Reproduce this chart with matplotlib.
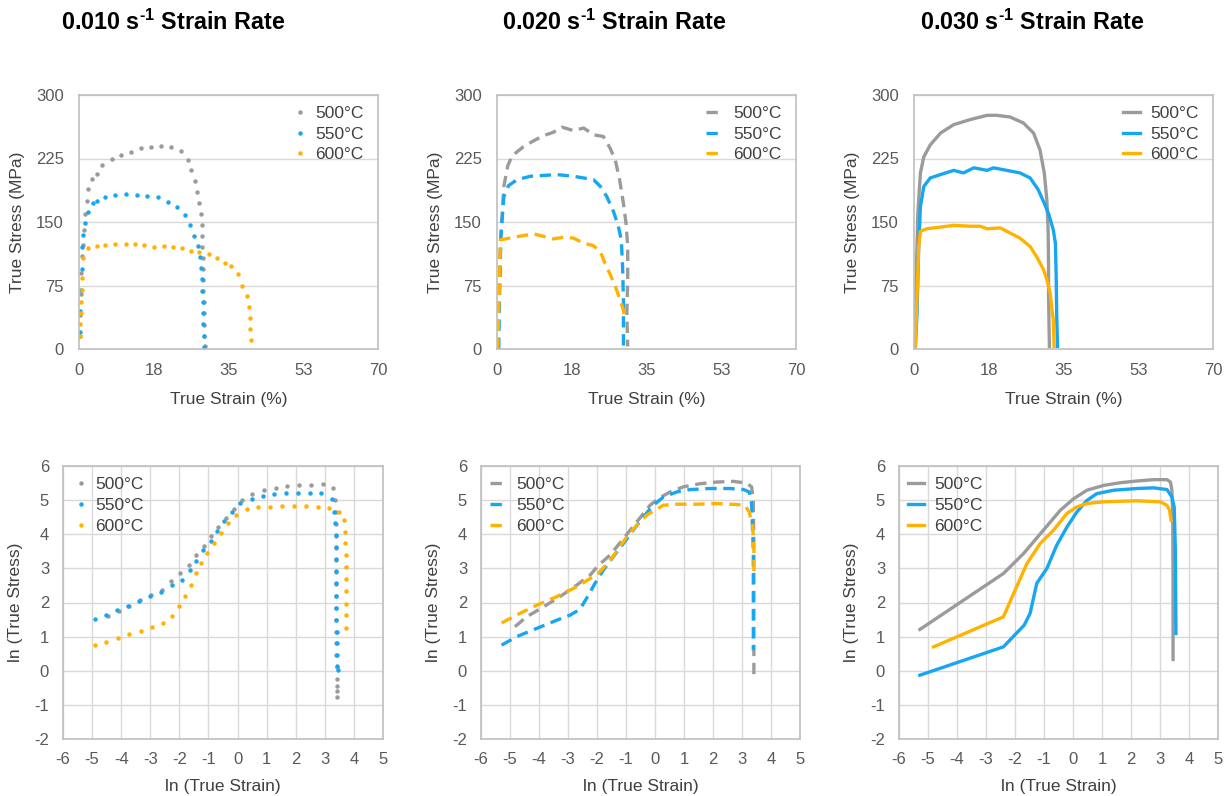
import matplotlib
matplotlib.use("Agg")
import matplotlib.pyplot as plt
from matplotlib import font_manager

# ---------------- data ----------------
temps = ["500°C", "550°C", "600°C"]
colors = ["#9b9b9b", "#17a6f2", "#ffb300"]

# 0.010 s-1 (dots): true strain (%) / true stress (MPa)
r1_500_x = [0.2, 0.3, 0.4, 0.5, 0.7, 1.0, 1.2, 1.4, 1.8, 2.2, 3.0, 4.1, 5.4, 7.7, 9.8, 12.1, 14.5, 16.8, 19.1, 21.6, 23.9, 25.5, 26.3, 27.1, 27.7, 28.2, 28.6, 28.8, 28.8, 28.9, 29.0, 29.0, 29.1, 29.1, 29.2, 29.2, 29.3, 29.3, 29.4]
r1_500_y = [15, 40, 65, 90, 110, 123, 140, 160, 175, 189, 201, 207, 217, 224, 229, 233, 237, 239, 240, 239, 234, 223, 211, 198, 185, 172, 159, 146, 134, 120, 108, 95, 82, 68, 55, 42, 28, 15, 3]
r1_550_x = [0.2, 0.3, 0.4, 0.6, 0.8, 1.0, 1.4, 2.0, 3.2, 4.1, 6.2, 8.4, 10.9, 13.5, 16.0, 18.4, 20.8, 23.0, 24.7, 25.9, 27.0, 27.8, 28.4, 28.6, 28.8, 28.9, 29.0, 29.1, 29.1, 29.2, 29.3]
r1_550_y = [20, 45, 70, 95, 120, 135, 149, 162, 173, 175, 180, 182, 183, 182, 181, 179, 174, 168, 158, 146, 134, 122, 109, 96, 83, 69, 56, 42, 29, 15, 2]
r1_600_x = [0.2, 0.3, 0.4, 0.5, 0.6, 0.8, 1.0, 2.0, 4.1, 6.2, 8.4, 10.9, 13.0, 15.2, 17.6, 19.8, 21.9, 24.1, 26.3, 28.2, 30.5, 32.3, 34.1, 35.7, 37.3, 38.2, 39.3, 39.7, 40.0, 40.1, 40.3]
r1_600_y = [15, 30, 43, 56, 70, 84, 107, 119, 122, 123, 124, 124, 123.5, 123, 121, 121.5, 120, 119, 116, 115, 112, 107, 102, 97.5, 88, 75, 63, 50, 37, 24, 11]

# 0.020 s-1 (dashed)
r2_500_x = [0.2, 0.8, 1.6, 2.5, 3.5, 6.2, 8.6, 10.9, 13.2, 15.2, 17.9, 20.3, 22.6, 24.9, 26.5, 27.7, 28.7, 29.6, 30.2, 30.6, 30.6, 30.4, 30.6]
r2_500_y = [0, 121, 192, 216, 228, 239, 246, 252, 256, 262, 258, 261, 253, 251, 237, 223, 200, 172, 149, 121, 82, 42, 3]
r2_550_x = [0.4, 0.6, 0.9, 1.6, 2.7, 4.7, 7.8, 10.9, 14.0, 17.9, 20.3, 22.6, 24.2, 25.7, 27.3, 28.4, 29.1, 29.4, 29.6, 29.6]
r2_550_y = [0, 62, 133, 180, 193, 200, 204, 205, 206, 204, 202, 200, 192, 180, 162, 145, 129, 97, 58, 3]
r2_600_x = [0.15, 0.5, 0.8, 2.0, 3.9, 6.2, 8.6, 10.9, 13.2, 15.6, 17.9, 20.3, 22.6, 24.2, 25.3, 26.5, 27.7, 28.8, 29.6, 29.9]
r2_600_y = [0, 62, 129, 130, 132, 134, 136, 133, 130, 132, 131, 125, 122, 115, 101, 88, 74, 58, 46, 35]

# 0.030 s-1 (solid)
r3_500_x = [0.15, 0.5, 0.9, 1.5, 2.3, 3.8, 6.2, 9.3, 13.2, 17.1, 19.4, 22.5, 25.6, 28.0, 29.5, 30.5, 31.1, 31.4, 31.5, 31.5, 31.7]
r3_500_y = [0, 82, 160, 208, 227, 241, 255, 265, 271, 276, 276, 274, 267, 255, 235, 208, 176, 141, 101, 62, 3]
r3_550_x = [0.3, 0.7, 1.1, 1.5, 2.3, 3.8, 6.2, 9.3, 11.6, 14.0, 17.1, 18.6, 21.7, 24.8, 27.2, 29.1, 30.5, 31.5, 32.6, 33.1, 33.3, 33.4, 33.6]
r3_550_y = [0, 42, 121, 168, 192, 202, 206, 211, 208, 214, 211, 214, 211, 208, 202, 188, 172, 160, 141, 125, 82, 42, 3]
r3_600_x = [0.3, 0.7, 1.1, 1.5, 3.0, 6.2, 9.3, 13.2, 15.5, 17.1, 20.2, 22.5, 24.8, 27.2, 28.7, 30.3, 31.1, 31.9, 32.2, 32.6, 32.8]
r3_600_y = [0, 62, 121, 139, 142, 144, 146, 145, 145, 142, 143, 137, 131, 121, 109, 94, 82, 66, 50, 35, 3]

# ln plots, 0.010 s-1 (dots)
l1_500_x = [-4.46, -4.09, -3.74, -3.35, -2.96, -2.60, -2.28, -1.97, -1.68, -1.42, -1.16, -0.91, -0.66, -0.41, -0.13, 0.14, 0.51, 0.92, 1.31, 1.70, 2.10, 2.53, 2.93, 3.27, 3.36, 3.37, 3.37, 3.37, 3.38, 3.38, 3.38, 3.38, 3.39, 3.39, 3.39, 3.40, 3.40, 3.40, 3.41, 3.41, 3.41, 3.42, 3.42]
l1_500_y = [1.61, 1.76, 1.91, 2.06, 2.22, 2.38, 2.62, 2.87, 3.10, 3.38, 3.66, 3.94, 4.20, 4.48, 4.75, 5.00, 5.17, 5.29, 5.35, 5.40, 5.43, 5.45, 5.48, 5.35, 5.01, 4.65, 4.30, 3.95, 3.60, 3.25, 2.90, 2.55, 2.20, 1.85, 1.50, 1.15, 0.80, 0.45, 0.10, -0.25, -0.45, -0.60, -0.76]
l1_550_x = [-4.91, -4.53, -4.15, -3.75, -3.38, -3.01, -2.62, -2.26, -1.90, -1.65, -1.42, -1.18, -0.91, -0.69, -0.45, -0.18, 0.10, 0.49, 0.89, 1.26, 1.67, 2.08, 2.50, 2.88, 3.24, 3.33, 3.36, 3.37, 3.37, 3.38, 3.38, 3.39, 3.39, 3.40, 3.40, 3.41, 3.41, 3.42, 3.43, 3.44]
l1_550_y = [1.51, 1.64, 1.79, 1.91, 2.05, 2.19, 2.32, 2.50, 2.67, 2.94, 3.23, 3.53, 3.80, 4.09, 4.38, 4.66, 4.93, 5.04, 5.12, 5.17, 5.21, 5.21, 5.22, 5.20, 5.02, 4.66, 4.34, 3.98, 3.62, 3.27, 2.91, 2.56, 2.20, 1.85, 1.49, 1.14, 0.80, 0.45, 0.15, 0.02]
l1_600_x = [-4.90, -4.51, -4.12, -3.73, -3.33, -2.94, -2.55, -2.25, -2.01, -1.82, -1.60, -1.42, -1.24, -1.05, -0.82, -0.58, -0.32, -0.05, 0.33, 0.71, 1.13, 1.54, 1.95, 2.35, 2.77, 3.14, 3.48, 3.65, 3.69, 3.71, 3.72, 3.72, 3.72, 3.72, 3.72, 3.72, 3.72]
l1_600_y = [0.75, 0.85, 0.97, 1.07, 1.17, 1.29, 1.40, 1.61, 1.90, 2.20, 2.51, 2.85, 3.16, 3.46, 3.75, 4.05, 4.33, 4.57, 4.74, 4.80, 4.81, 4.82, 4.83, 4.82, 4.81, 4.78, 4.66, 4.43, 4.08, 3.73, 3.38, 3.03, 2.68, 2.33, 1.97, 1.62, 1.26]

# ln plots, 0.020 s-1 (dashed)
l2_500_x = [-4.83, -4.43, -3.85, -3.28, -2.70, -2.24, -1.95, -1.55, -1.09, -0.63, -0.17, 0.11, 0.52, 0.98, 1.55, 2.13, 2.70, 3.16, 3.33, 3.39, 3.41, 3.41, 3.41]
l2_500_y = [1.29, 1.58, 1.87, 2.17, 2.51, 2.80, 3.09, 3.39, 3.87, 4.36, 4.85, 5.04, 5.24, 5.39, 5.48, 5.53, 5.55, 5.50, 5.39, 5.00, 3.53, 1.58, -0.27]
l2_550_x = [-5.29, -4.77, -4.08, -3.39, -2.93, -2.59, -2.36, -2.07, -1.78, -1.44, -1.09, -0.75, -0.40, -0.06, 0.29, 0.75, 1.21, 1.90, 2.59, 3.05, 3.25, 3.33, 3.39, 3.39, 3.39]
l2_550_y = [0.75, 1.00, 1.24, 1.48, 1.63, 1.80, 2.12, 2.56, 2.95, 3.34, 3.73, 4.12, 4.51, 4.85, 5.09, 5.24, 5.31, 5.34, 5.34, 5.31, 5.24, 4.90, 3.53, 1.58, 0.60]
l2_600_x = [-5.29, -4.66, -4.08, -3.39, -2.70, -2.24, -1.90, -1.55, -1.21, -0.98, -0.63, -0.29, 0.00, 0.29, 0.75, 1.44, 2.13, 2.82, 3.10, 3.25, 3.37, 3.41, 3.41]
l2_600_y = [1.40, 1.68, 1.92, 2.17, 2.46, 2.70, 2.90, 3.24, 3.63, 3.92, 4.26, 4.56, 4.70, 4.85, 4.88, 4.88, 4.90, 4.87, 4.85, 4.65, 4.21, 3.53, 2.75]

# ln plots, 0.030 s-1 (solid)
l3_500_x = [-5.28, -2.40, -1.71, -1.02, -0.44, 0.02, 0.48, 1.05, 1.63, 2.20, 2.78, 3.24, 3.36, 3.41, 3.44, 3.45, 3.45]
l3_500_y = [1.21, 2.85, 3.43, 4.12, 4.70, 5.04, 5.29, 5.43, 5.51, 5.56, 5.60, 5.60, 5.53, 5.29, 4.51, 2.56, 0.33]
l3_550_x = [-5.28, -2.40, -1.68, -1.48, -1.25, -0.90, -0.56, -0.21, 0.13, 0.48, 0.82, 1.40, 2.20, 2.78, 3.24, 3.41, 3.49, 3.53, 3.55]
l3_550_y = [-0.13, 0.70, 1.34, 1.68, 2.56, 3.00, 3.68, 4.21, 4.65, 4.99, 5.19, 5.29, 5.34, 5.36, 5.31, 5.09, 4.80, 3.53, 1.09]
l3_600_x = [-4.81, -2.40, -2.05, -1.59, -1.13, -0.67, -0.21, 0.13, 0.48, 1.05, 2.20, 3.01, 3.24, 3.33, 3.38]
l3_600_y = [0.70, 1.58, 2.26, 3.14, 3.73, 4.12, 4.61, 4.80, 4.90, 4.95, 4.98, 4.95, 4.85, 4.70, 4.41]

titles = ["0.010 s$^{\\text{-1}}$ Strain Rate",
          "0.020 s$^{\\text{-1}}$ Strain Rate",
          "0.030 s$^{\\text{-1}}$ Strain Rate"]
top_xticks = [0, 17.5, 35, 52.5, 70]
top_xticklabels = ["0", "18", "35", "53", "70"]
top_yticks = [0, 75, 150, 225, 300]
bot_xticks = [-6, -5, -4, -3, -2, -1, 0, 1, 2, 3, 4, 5]
bot_yticks = [-2, -1, 0, 1, 2, 3, 4, 5, 6]

# ---------------- fonts ----------------
def has_font(name):
    try:
        font_manager.findfont(font_manager.FontProperties(family=name), fallback_to_default=False)
        return True
    except Exception:
        return False

base = "Liberation Sans" if has_font("Liberation Sans") else "DejaVu Sans"
plt.rcParams["font.family"] = [base, "DejaVu Sans"]
plt.rcParams["axes.unicode_minus"] = False
plt.rcParams["mathtext.fontset"] = "custom"
plt.rcParams["mathtext.rm"] = base + ":bold"
plt.rcParams["mathtext.bf"] = base + ":bold"

TXT = "#404040"
TICK = "#595959"
SPINE = "#bfbfbf"
GRID = "#d9d9d9"

fig = plt.figure(figsize=(12.31, 7.96), dpi=100)

top_pos = [(79, 378), (497, 796), (914, 1213)]
bot_pos = [(63, 383), (481, 800), (899, 1218)]
W, H = 1231.0, 796.0

def mk_axes(x0, x1, y0, y1):
    return fig.add_axes([x0 / W, (H - y1) / H, (x1 - x0) / W, (y1 - y0) / H])

def style(ax, xgrid, xpad, ypad):
    for s in ax.spines.values():
        s.set_color(SPINE)
        s.set_linewidth(1.2)
    ax.tick_params(length=0, labelsize=12, colors=TICK)
    ax.tick_params(axis="x", pad=xpad)
    ax.tick_params(axis="y", pad=ypad)
    ax.set_axisbelow(True)
    ax.grid(axis="y", color=GRID, linewidth=1)
    if xgrid:
        ax.grid(axis="x", color=GRID, linewidth=1)

top_data = [
    [(r1_500_x, r1_500_y), (r1_550_x, r1_550_y), (r1_600_x, r1_600_y)],
    [(r2_500_x, r2_500_y), (r2_550_x, r2_550_y), (r2_600_x, r2_600_y)],
    [(r3_500_x, r3_500_y), (r3_550_x, r3_550_y), (r3_600_x, r3_600_y)],
]
bot_data = [
    [(l1_500_x, l1_500_y), (l1_550_x, l1_550_y), (l1_600_x, l1_600_y)],
    [(l2_500_x, l2_500_y), (l2_550_x, l2_550_y), (l2_600_x, l2_600_y)],
    [(l3_500_x, l3_500_y), (l3_550_x, l3_550_y), (l3_600_x, l3_600_y)],
]

def draw(ax, series, kind):
    for (xs, ys), c, lab in zip(series, colors, temps):
        if kind == 0:
            ax.plot(xs, ys, linestyle="none", marker="o", markersize=3.2,
                    markeredgewidth=0, color=c, label=lab)
        elif kind == 1:
            ax.plot(xs, ys, linestyle=(0, (3.4, 2.0)), linewidth=2.4, color=c,
                    label=lab, dash_capstyle="butt")
        else:
            ax.plot(xs, ys, linestyle="-", linewidth=2.4, color=c, label=lab)

def add_legend(ax, kind, loc, anchor):
    leg = ax.legend(loc=loc, frameon=False, fontsize=12.5,
                    handlelength=(0.5 if kind == 0 else 0.95),
                    handletextpad=(0.6 if kind == 0 else 0.6),
                    labelspacing=0.32, borderaxespad=0.0,
                    bbox_to_anchor=anchor)
    for t in leg.get_texts():
        t.set_color(TXT)

top_anchor = [(0.975, 0.985), (0.975, 0.985), (0.975, 0.985)]
bot_anchor = [(0.02, 0.985), (0.005, 0.985), (0.005, 0.985)]

for i in range(3):
    ax = mk_axes(top_pos[i][0], top_pos[i][1], 95, 349)
    style(ax, False, 10, 11)
    draw(ax, top_data[i], i)
    ax.set_xlim(0, 70)
    ax.set_ylim(0, 300)
    ax.set_xticks(top_xticks)
    ax.set_xticklabels(top_xticklabels)
    ax.set_yticks(top_yticks)
    ax.set_xlabel("True Strain (%)", fontsize=12.5, color=TXT, labelpad=10)
    ax.set_ylabel("True Stress (MPa)", fontsize=12.5, color=TXT, labelpad=8)
    add_legend(ax, i, "upper right", top_anchor[i])

    bx = mk_axes(bot_pos[i][0], bot_pos[i][1], 466, 739)
    style(bx, True, 9, 10)
    draw(bx, bot_data[i], i)
    bx.set_xlim(-6, 5)
    bx.set_ylim(-2, 6)
    bx.set_xticks(bot_xticks)
    bx.set_yticks(bot_yticks)
    bx.set_xlabel("ln (True Strain)", fontsize=12.5, color=TXT, labelpad=9)
    bx.set_ylabel("ln (True Stress)", fontsize=12.5, color=TXT, labelpad=8)
    add_legend(bx, i, "upper left", bot_anchor[i])

title_x = [173, 614, 1032]
for tx, tt in zip(title_x, titles):
    fig.text(tx / W, 1 - 22 / H, tt, ha="center", va="center", fontsize=16.8,
             fontweight="bold", color="black")

fig.savefig("out.png", dpi=100)
